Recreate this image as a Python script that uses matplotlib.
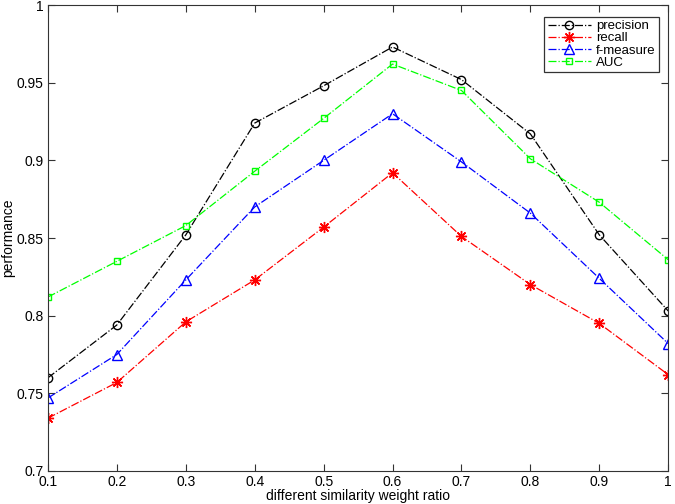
import numpy as np
import matplotlib.pyplot as plt

plt.rcParams['font.family'] = ['Liberation Sans', 'DejaVu Sans']

# Data
ratio = [0.1, 0.2, 0.3, 0.4, 0.5, 0.6, 0.7, 0.8, 0.9, 1.0]
precision = [0.760, 0.794, 0.852, 0.924, 0.948, 0.973, 0.952, 0.917, 0.852, 0.803]
recall = [0.734, 0.757, 0.796, 0.823, 0.857, 0.892, 0.851, 0.820, 0.795, 0.762]
f_measure = [0.747, 0.775, 0.823, 0.870, 0.900, 0.930, 0.899, 0.866, 0.824, 0.782]
auc = [0.812, 0.835, 0.858, 0.893, 0.927, 0.962, 0.945, 0.901, 0.873, 0.836]

fig = plt.figure(figsize=(6.75, 5.04), dpi=100)
ax = fig.add_axes([0.071, 0.0655, 0.919, 0.9245])

# MATLAB-style open markers and dash-dot lines; 8-spoke asterisk for recall
ax.plot(ratio, precision, '-.', color='black', marker='o', mfc='none', ms=6, mew=1, lw=0.9, label='precision')
ax.plot(ratio, recall, '-.', color='red', marker=(8, 2, 0), ms=8, mew=1, lw=0.9, label='recall')
ax.plot(ratio, f_measure, '-.', color='blue', marker='^', mfc='none', ms=7, mew=1, lw=0.9, label='f-measure')
ax.plot(ratio, auc, '-.', color='#00ff00', marker='s', mfc='none', ms=4.8, mew=1, lw=0.9, label='AUC')

ax.set_xlim(0.1, 1.0)
ax.set_ylim(0.7, 1.0)
ax.set_xticks(ratio)
ax.set_xticklabels(['0.1', '0.2', '0.3', '0.4', '0.5', '0.6', '0.7', '0.8', '0.9', '1'])
ax.set_yticks([0.7, 0.75, 0.8, 0.85, 0.9, 0.95, 1.0])
ax.set_yticklabels(['0.7', '0.75', '0.8', '0.85', '0.9', '0.95', '1'])
ax.tick_params(direction='in', top=True, right=True, length=5, labelsize=10, color='#333333')
ax.tick_params(axis='x', pad=3)
ax.tick_params(axis='y', pad=3)
for s in ax.spines.values():
    s.set_color('#333333')

ax.set_xlabel('different similarity weight ratio', fontsize=10, labelpad=0)
ax.set_ylabel('performance', fontsize=10)
ax.yaxis.set_label_coords(-0.052, 0.5)

leg = ax.legend(loc='upper right', bbox_to_anchor=(0.9855, 0.975), fontsize=9.5, numpoints=1,
                handlelength=3.3, handletextpad=0.4, borderpad=0.25, labelspacing=0.0,
                borderaxespad=0, fancybox=False, framealpha=1)
leg.get_frame().set_edgecolor('#333333')
leg.get_frame().set_linewidth(0.9)

fig.savefig('out.png', dpi=100)
